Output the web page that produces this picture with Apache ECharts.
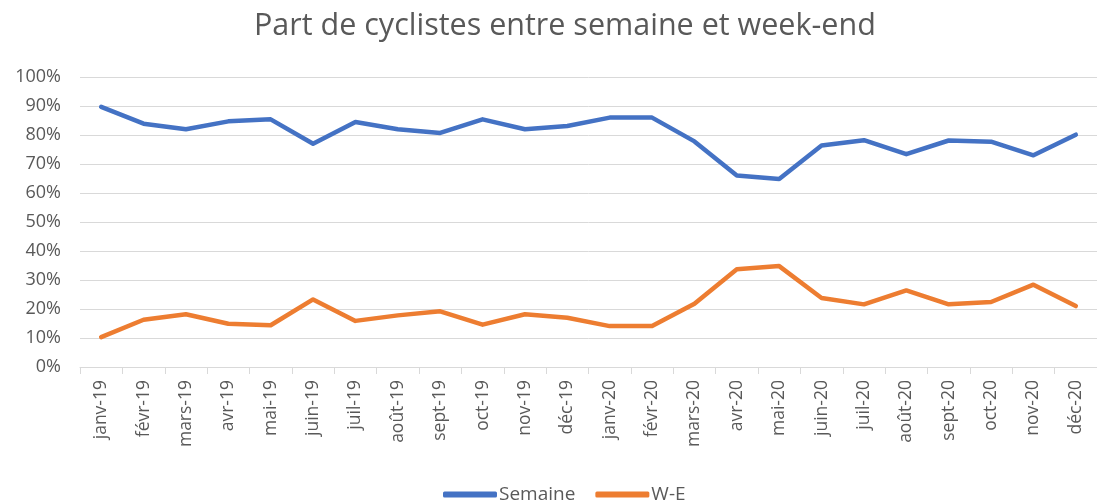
<!DOCTYPE html>
<html>
<head>
<meta charset="utf-8">
<script src="https://cdn.jsdelivr.net/npm/echarts@6/dist/echarts.min.js"></script>
<style>
  html, body { margin: 0; padding: 0; background: #fff; }
  #chart { width: 1097px; height: 504px; }
</style>
</head>
<body>
<div id="chart"></div>
<script>
// Monthly share of cyclists, weekdays vs weekend (%)
const months = [
  'janv-19', 'févr-19', 'mars-19', 'avr-19', 'mai-19', 'juin-19',
  'juil-19', 'août-19', 'sept-19', 'oct-19', 'nov-19', 'déc-19',
  'janv-20', 'févr-20', 'mars-20', 'avr-20', 'mai-20', 'juin-20',
  'juil-20', 'août-20', 'sept-20', 'oct-20', 'nov-20', 'déc-20'
];
const semaine = [
  89.7, 83.9, 82.0, 84.7, 85.4, 77.0, 84.5, 82.0, 80.7, 85.4, 82.0, 83.1,
  86.0, 86.0, 77.8, 66.0, 64.8, 76.4, 78.2, 73.4, 78.1, 77.7, 73.0, 80.1
];
const weekEnd = [
  10.3, 16.3, 18.2, 14.9, 14.4, 23.3, 15.9, 17.8, 19.2, 14.6, 18.2, 17.0,
  14.1, 14.1, 21.8, 33.7, 34.8, 23.8, 21.6, 26.4, 21.6, 22.4, 28.4, 21.0
];
const yTicks = [0, 10, 20, 30, 40, 50, 60, 70, 80, 90, 100];

const textColor = '#595959';
const font = '"Open Sans", "Liberation Sans", sans-serif';

const chart = echarts.init(document.getElementById('chart'), null, { renderer: 'canvas' });
chart.setOption({
  animation: false,
  backgroundColor: '#ffffff',
  title: {
    text: 'Part de cyclistes entre semaine et week-end',
    left: 249,
    top: 6,
    textStyle: { color: textColor, fontFamily: font, fontSize: 30.5, fontWeight: 'normal' }
  },
  legend: {
    top: 480,
    left: 438,
    itemWidth: 54,
    itemHeight: 6,
    itemGap: 20,
    icon: 'roundRect',
    textStyle: { color: textColor, fontFamily: font, fontSize: 19, padding: [0, 0, 0, -3] },
    data: ['Semaine', 'W-E']
  },
  grid: { left: 80, top: 77, width: 1026, height: 290, containLabel: false },
  xAxis: {
    type: 'category',
    data: months,
    boundaryGap: true,
    axisLine: { lineStyle: { color: '#d9d9d9', width: 1 } },
    axisTick: { show: true, alignWithLabel: false, length: 7, lineStyle: { color: '#d9d9d9' } },
    axisLabel: {
      rotate: 90,
      interval: 0,
      margin: 13,
      color: textColor,
      fontFamily: font,
      fontSize: 17.5
    }
  },
  yAxis: {
    type: 'value',
    min: yTicks[0],
    max: yTicks[yTicks.length - 1],
    interval: 10,
    axisLine: { show: false },
    axisTick: { show: false },
    splitLine: { lineStyle: { color: '#d9d9d9', width: 1 } },
    axisLabel: {
      margin: 19,
      color: textColor,
      fontFamily: font,
      fontSize: 18,
      formatter: v => v + '%'
    }
  },
  series: [
    {
      name: 'Semaine',
      type: 'line',
      data: semaine,
      symbol: 'none',
      color: '#4472C4',
      lineStyle: { width: 4.5, color: '#4472C4', cap: 'round', join: 'round' }
    },
    {
      name: 'W-E',
      type: 'line',
      data: weekEnd,
      symbol: 'none',
      color: '#ED7D31',
      lineStyle: { width: 4.5, color: '#ED7D31', cap: 'round', join: 'round' }
    }
  ]
});
</script>
</body>
</html>
